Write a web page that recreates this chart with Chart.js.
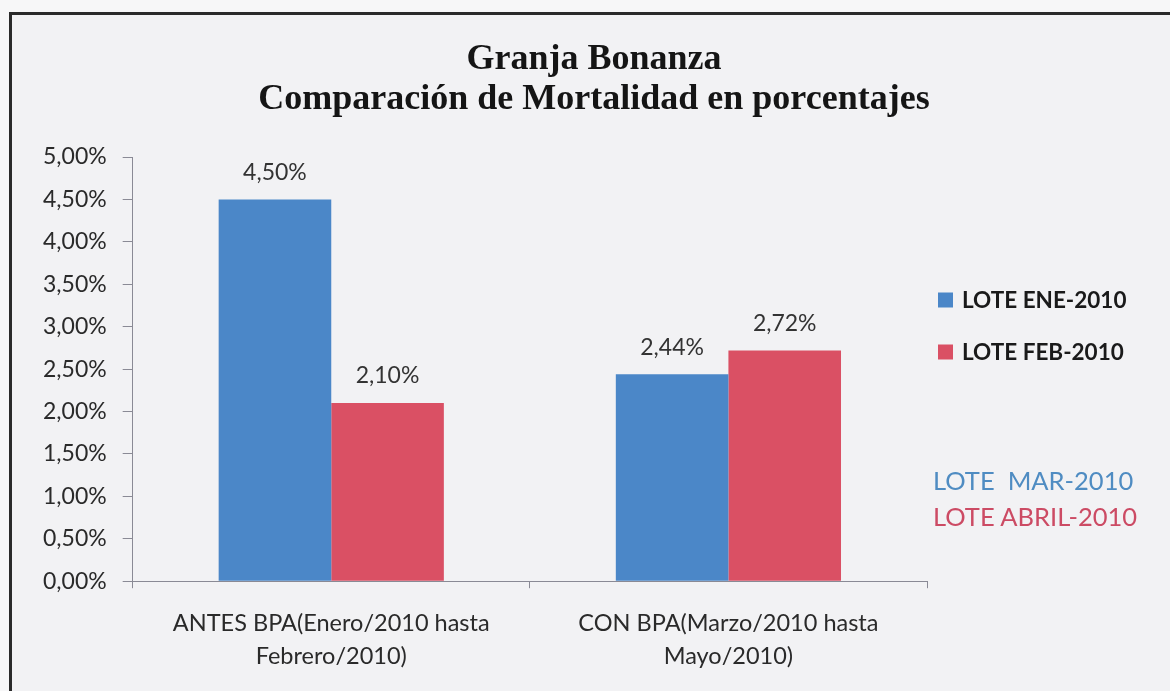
<!DOCTYPE html>
<html>
<head>
<meta charset="utf-8">
<script src="https://cdn.jsdelivr.net/npm/chart.js@4.4.1/dist/chart.umd.min.js"></script>
<style>
  html, body { margin: 0; padding: 0; width: 1170px; height: 691px; overflow: hidden; background: #f7f7f8; }
  #frame { position: absolute; left: 9px; top: 12px; width: 1200px; height: 700px;
           border-left: 3px solid #2a2a2a; border-top: 3px solid #2a2a2a; background: #f2f2f4; }
  #wrap { position: absolute; left: 0; top: 0; width: 1170px; height: 691px; }
  .note { position: absolute; font-family: Lato, "Open Sans", sans-serif; font-size: 25.5px; line-height: 1.2; white-space: pre; }
</style>
</head>
<body>
<div id="frame"></div>
<div id="wrap"><canvas id="c" width="1170" height="691"></canvas></div>
<div class="note" style="left:933px; top:465px; color:#4f8cc2;">LOTE  MAR-2010</div>
<div class="note" style="left:933px; top:501px; color:#cc4b64;">LOTE ABRIL-2010</div>
<script>
const categories = [
  ["ANTES BPA(Enero/2010 hasta", "Febrero/2010)"],
  ["CON BPA(Marzo/2010 hasta", "Mayo/2010)"]
];
const seriesNames = ["LOTE ENE-2010", "LOTE FEB-2010"];
const loteEne = [4.50, 2.44];
const loteFeb = [2.10, 2.72];
const titleLines = ["Granja Bonanza", "Comparación de Mortalidad en porcentajes"];
const yMin = 0, yMax = 5, yStep = 0.5;

const fmt = v => v.toFixed(2).replace('.', ',') + '%';
const SANS = 'Lato, "Open Sans", sans-serif';

const valueLabels = {
  id: 'valueLabels',
  afterDatasetsDraw(chart) {
    const ctx = chart.ctx;
    ctx.save();
    ctx.font = '23px ' + SANS;
    ctx.fillStyle = '#333';
    ctx.textAlign = 'center';
    ctx.textBaseline = 'middle';
    chart.data.datasets.forEach((ds, i) => {
      chart.getDatasetMeta(i).data.forEach((bar, j) => {
        ctx.fillText(fmt(ds.data[j]), bar.x, bar.y - 27);
      });
    });
    ctx.restore();
  }
};

// legend drawn from the datasets (label + colour), placed at the right of the plot
const sideLegend = {
  id: 'sideLegend',
  afterDraw(chart) {
    const ctx = chart.ctx;
    const x0 = chart.chartArea.right + 11;
    let y = chart.chartArea.top + 143;
    ctx.save();
    ctx.font = 'bold 22.5px ' + SANS;
    ctx.textBaseline = 'middle';
    ctx.textAlign = 'left';
    chart.data.datasets.forEach(ds => {
      ctx.fillStyle = ds.backgroundColor;
      ctx.fillRect(x0, y - 7.5, 15, 15);
      ctx.fillStyle = '#1a1a1a';
      ctx.fillText(ds.label, x0 + 24, y + 1);
      y += 52;
    });
    ctx.restore();
  }
};

new Chart(document.getElementById('c'), {
  type: 'bar',
  data: {
    labels: categories,
    datasets: [
      { label: seriesNames[0], data: loteEne, backgroundColor: '#4b87c8' },
      { label: seriesNames[1], data: loteFeb, backgroundColor: '#da5064' }
    ]
  },
  options: {
    responsive: false,
    animation: false,
    devicePixelRatio: 1,
    layout: { padding: { left: 27, right: 9, top: 0, bottom: 0 } },
    datasets: { bar: { categoryPercentage: 0.567, barPercentage: 1.0 } },
    plugins: {
      title: {
        display: true,
        text: titleLines,
        color: '#151515',
        font: { family: '"Liberation Serif", "DejaVu Serif", serif', size: 36, weight: 'bold', lineHeight: 1.1 },
        padding: { top: 40, bottom: 37.8 }
      },
      legend: { display: false },
      tooltip: { enabled: false }
    },
    scales: {
      x: {
        grid: { drawOnChartArea: false, color: '#8a8a95', tickLength: 7 },
        border: { color: '#8a8a95' },
        ticks: {
          color: '#2a2a2a', padding: 18.5,
          font: { family: SANS, size: 23.5, lineHeight: 1.4 }
        }
      },
      y: {
        min: yMin, max: yMax,
        grid: { drawOnChartArea: false, color: '#8a8a95', tickLength: 10 },
        border: { color: '#8a8a95' },
        ticks: {
          stepSize: yStep, color: '#2a2a2a', padding: 16,
          font: { family: SANS, size: 23 },
          callback: v => fmt(v)
        }
      },
      side: {
        type: 'linear',
        position: 'right',
        grid: { display: false },
        border: { display: false },
        ticks: { display: false },
        afterFit(scale) { scale.width = 234; }
      }
    }
  },
  plugins: [valueLabels, sideLegend]
});
</script>
</body>
</html>
